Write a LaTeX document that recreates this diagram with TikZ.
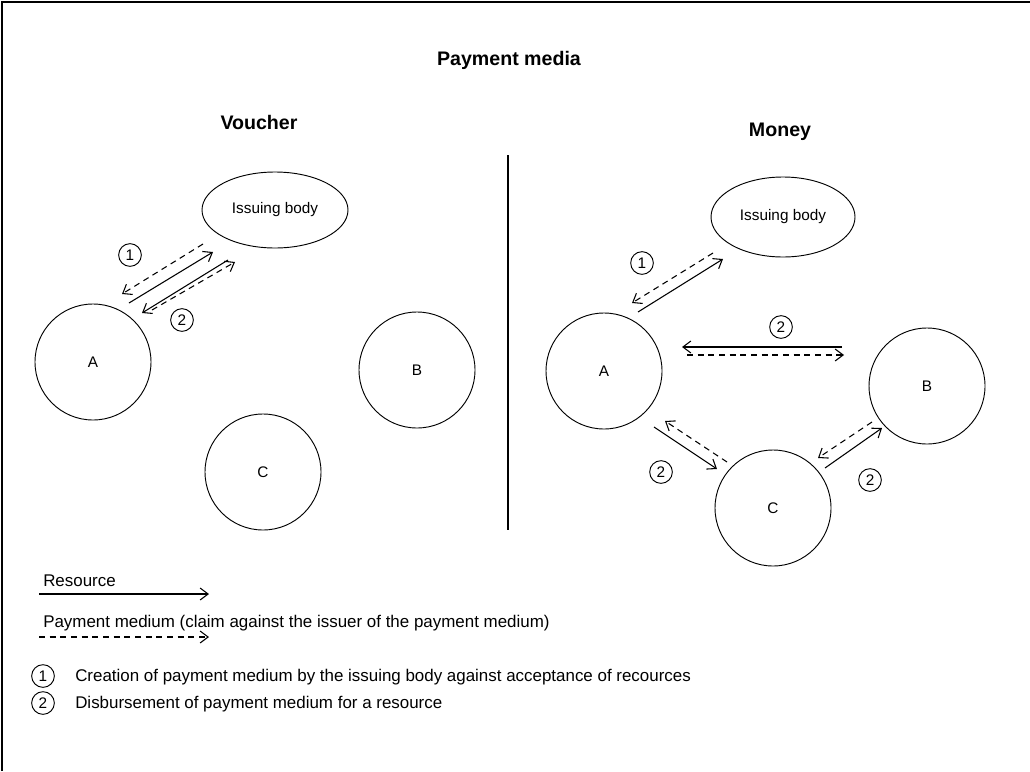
\documentclass[tikz,border=0pt]{standalone}
\usepackage{fontspec}
\setmainfont{Liberation Sans}
\usetikzlibrary{arrows.meta,shapes.geometric}
\newcommand{\lblfont}{\fontsize{11.5}{13}\selectfont}
\newcommand{\legfont}{\fontsize{12.7}{15}\selectfont}
\newcommand{\headfont}{\fontsize{14.7}{17}\selectfont\bfseries}

\begin{document}
\begin{tikzpicture}[x=0.75pt,y=-0.75pt,font=\lblfont,
  party/.style={draw,circle,minimum size=87pt,inner sep=0pt,line width=0.7pt},
  issuer/.style={draw,ellipse,inner sep=0pt,line width=0.7pt},
  num/.style={draw,circle,minimum size=17pt,inner sep=0pt,line width=0.7pt},
  res/.style={-{Straight Barb[length=6pt,width=9pt]},line width=0.8pt},
  pay/.style={res,dash pattern=on 4.5pt off 3.5pt}]
\useasboundingbox (0,0) rectangle (1030,771);
\draw[line width=1.5pt] (2,771) -- (2,2) -- (1030,2);

% headings
\node[font=\headfont] (title) at (509,60) {Payment media};
\node[font=\headfont] (vhead) at (259,122) {Voucher};
\node[font=\headfont] (mhead) at (780,132) {Money};
\coordinate (divtop) at (508,155);
\coordinate (divbot) at (508,530);
\draw[line width=0.8pt] (divtop) -- (divbot);

% voucher
\node[issuer,minimum width=109.5pt,minimum height=57pt] (vI) at (275,210) {Issuing body};
\node[party] (vA) at (93,362) {A};
\node[party] (vB) at (417,370) {B};
\node[party] (vC) at (263,472) {C};
\coordinate (v1p) at (203,244); \coordinate (v1q) at (122,294);
\coordinate (v1r) at (129,303); \coordinate (v1s) at (213,252);
\coordinate (v2r) at (228,260); \coordinate (v2s) at (142,313);
\coordinate (v2p) at (152,310); \coordinate (v2q) at (235,262);
\draw[pay] (v1p) -- (v1q);
\draw[res] (v1r) -- (v1s);
\draw[res] (v2r) -- (v2s);
\draw[pay] (v2p) -- (v2q);
\node[num] (vn1) at (130,255) {1};
\node[num] (vn2) at (182,320) {2};

% money
\node[issuer,minimum width=108pt,minimum height=60pt] (mI) at (783,217) {Issuing body};
\node[party] (mA) at (604,371) {A};
\node[party] (mB) at (927,386) {B};
\node[party] (mC) at (773,508) {C};
\coordinate (m1p) at (713,253); \coordinate (m1q) at (632,303);
\coordinate (m1r) at (638,312); \coordinate (m1s) at (723,259);
\coordinate (mabr) at (842,347); \coordinate (mabs) at (682,347);
\coordinate (mabp) at (687,355); \coordinate (mabq) at (844,355);
\coordinate (macr) at (654,427); \coordinate (macs) at (717,469);
\coordinate (macp) at (727,462); \coordinate (macq) at (665,421);
\coordinate (mcbr) at (825,468); \coordinate (mcbs) at (882,428);
\coordinate (mcbp) at (872,422); \coordinate (mcbq) at (818,458);
\draw[pay] (m1p) -- (m1q);
\draw[res] (m1r) -- (m1s);
\draw[res] (mabr) -- (mabs);
\draw[pay] (mabp) -- (mabq);
\draw[res] (macr) -- (macs);
\draw[pay] (macp) -- (macq);
\draw[res] (mcbr) -- (mcbs);
\draw[pay] (mcbp) -- (mcbq);
\node[num] (mn1) at (642,263) {1};
\node[num] (mn2) at (781,327) {2};
\node[num] (mn3) at (661,472) {2};
\node[num] (mn4) at (870,480) {2};

% legend
\node[font=\legfont,anchor=west,inner sep=0pt] (lres) at (43,581) {Resource};
\coordinate (lresa) at (39,594); \coordinate (lresb) at (209,594);
\draw[res] (lresa) -- (lresb);
\node[font=\legfont,anchor=west,inner sep=0pt] (lpay) at (43,623)
  {Payment medium (claim against the issuer of the payment medium)};
\coordinate (lpaya) at (39,637); \coordinate (lpayb) at (209,637);
\draw[pay] (lpaya) -- (lpayb);
\node[num] (ln1) at (43,676) {1};
\node[font=\legfont,anchor=west,inner sep=0pt] (lt1) at (75,677)
  {Creation of payment medium by the issuing body against acceptance of recources};
\node[num] (ln2) at (43,703) {2};
\node[font=\legfont,anchor=west,inner sep=0pt] (lt2) at (75,704)
  {Disbursement of payment medium for a resource};
\end{tikzpicture}
\end{document}
